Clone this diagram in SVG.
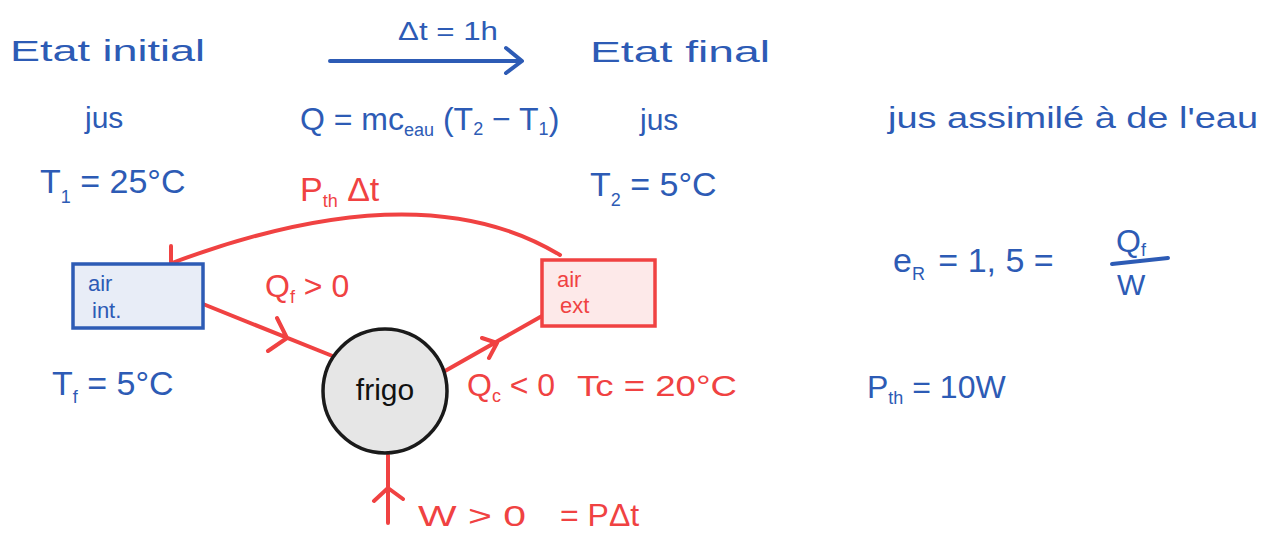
<svg xmlns="http://www.w3.org/2000/svg" width="1277" height="541" viewBox="0 0 1277 541">
<style>
text{font-family:'Liberation Sans',Arial,sans-serif;font-size:30px}
.b{fill:#2d5bb5}
.r{fill:#f04242}
.k{fill:#111}
.s{font-size:18px}
.sm{font-size:22px}
.ln{fill:none;stroke-width:4;stroke-linecap:round;stroke-linejoin:round}
.lb{stroke:#2d5bb5}
.lr{stroke:#f04242}
</style>
<rect width="1277" height="541" fill="#fff"/>

<g id="connectors">
  <path class="ln lb" d="M330 61 H521 M506 48 L522 61 L506 73"/>
  <path class="ln lr" d="M560 255 Q 420 170 172 263 M171 246 L171 264 L190 266"/>
  <path class="ln lr" d="M203 304 L335 357 M277 318 L287 338 L268 351"/>
  <path class="ln lr" d="M445 371 L542 316 M482 338 L497 343 L489 358"/>
  <path class="ln lr" d="M388 455 V523 M374 501 L388 488 L403 499"/>
</g>

<g id="node-air-int">
  <rect x="73" y="264" width="130" height="64" fill="#e8edf7" stroke="#2d5bb5" stroke-width="3.5"/>
  <text class="b sm" x="88" y="291">air</text>
  <text class="b sm" x="92" y="318">int.</text>
</g>

<g id="node-air-ext">
  <rect x="542" y="260" width="113" height="66" fill="#fde9e9" stroke="#f04242" stroke-width="3.5"/>
  <text class="r sm" x="557" y="287">air</text>
  <text class="r sm" x="560" y="313">ext</text>
</g>

<g id="node-frigo">
  <circle cx="385" cy="391" r="62" fill="#e6e6e6" stroke="#1a1a1a" stroke-width="3.5"/>
  <text class="k" x="385" y="400" text-anchor="middle">frigo</text>
</g>

<g id="labels">
  <text class="b" x="10" y="61" textLength="195" lengthAdjust="spacingAndGlyphs">Etat initial</text>
  <text class="b" x="398" y="40" textLength="100" lengthAdjust="spacingAndGlyphs" style="font-size:26px">Δt = 1h</text>
  <text class="b" x="590" y="62" textLength="180" lengthAdjust="spacingAndGlyphs">Etat final</text>

  <text class="b" x="85" y="128">jus</text>
  <text class="b" x="300" y="130" style="font-size:32px">Q = mc<tspan class="s" dy="6">eau</tspan><tspan dy="-6"> (T</tspan><tspan class="s" dy="5">2</tspan><tspan dy="-5"> − T</tspan><tspan class="s" dy="5">1</tspan><tspan dy="-5">)</tspan></text>
  <text class="b" x="640" y="130">jus</text>
  <text class="b" x="888" y="128" textLength="370" lengthAdjust="spacingAndGlyphs">jus assimilé à de l'eau</text>

  <text class="b" x="40" y="193" style="font-size:34px">T<tspan class="s" dy="10">1</tspan><tspan dy="-10"> = 25°C</tspan></text>
  <text class="r" x="300" y="201" style="font-size:34px">P<tspan class="s" dy="6">th</tspan><tspan dy="-6"> Δt</tspan></text>
  <text class="b" x="590" y="196" style="font-size:34px">T<tspan class="s" dy="10">2</tspan><tspan dy="-10"> = 5°C</tspan></text>

  <text class="b" x="893" y="272" style="font-size:34px">e<tspan class="s" dy="8">R</tspan><tspan dy="-8" dx="4"> =  1, 5  =</tspan></text>
  <text class="b" x="1116" y="252" style="font-size:32px">Q<tspan class="s" dy="4">f</tspan></text>
  <path class="ln lb" d="M1112 264 L1168 258"/>
  <text class="b" x="1117" y="295" style="font-size:30px">W</text>

  <text class="r" x="265" y="297" style="font-size:32px">Q<tspan class="s" dy="6">f</tspan><tspan dy="-6"> &gt; 0</tspan></text>

  <text class="b" x="52" y="395" style="font-size:34px">T<tspan class="s" dy="8">f</tspan><tspan dy="-8"> = 5°C</tspan></text>
  <text class="r" x="467" y="396" style="font-size:32px">Q<tspan class="s" dy="6">c</tspan><tspan dy="-6"> &lt; 0</tspan></text>
  <text class="r" x="577" y="396" textLength="160" lengthAdjust="spacingAndGlyphs">Tc = 20°C</text>
  <text class="b" x="867" y="398" style="font-size:32px">P<tspan class="s" dy="6">th</tspan><tspan dy="-6"> = 10W</tspan></text>

  <text class="r" x="418" y="526" textLength="108" lengthAdjust="spacingAndGlyphs">W &gt; 0</text>
  <text class="r" x="560" y="526" style="font-size:32px">= PΔt</text>
</g>
</svg>
